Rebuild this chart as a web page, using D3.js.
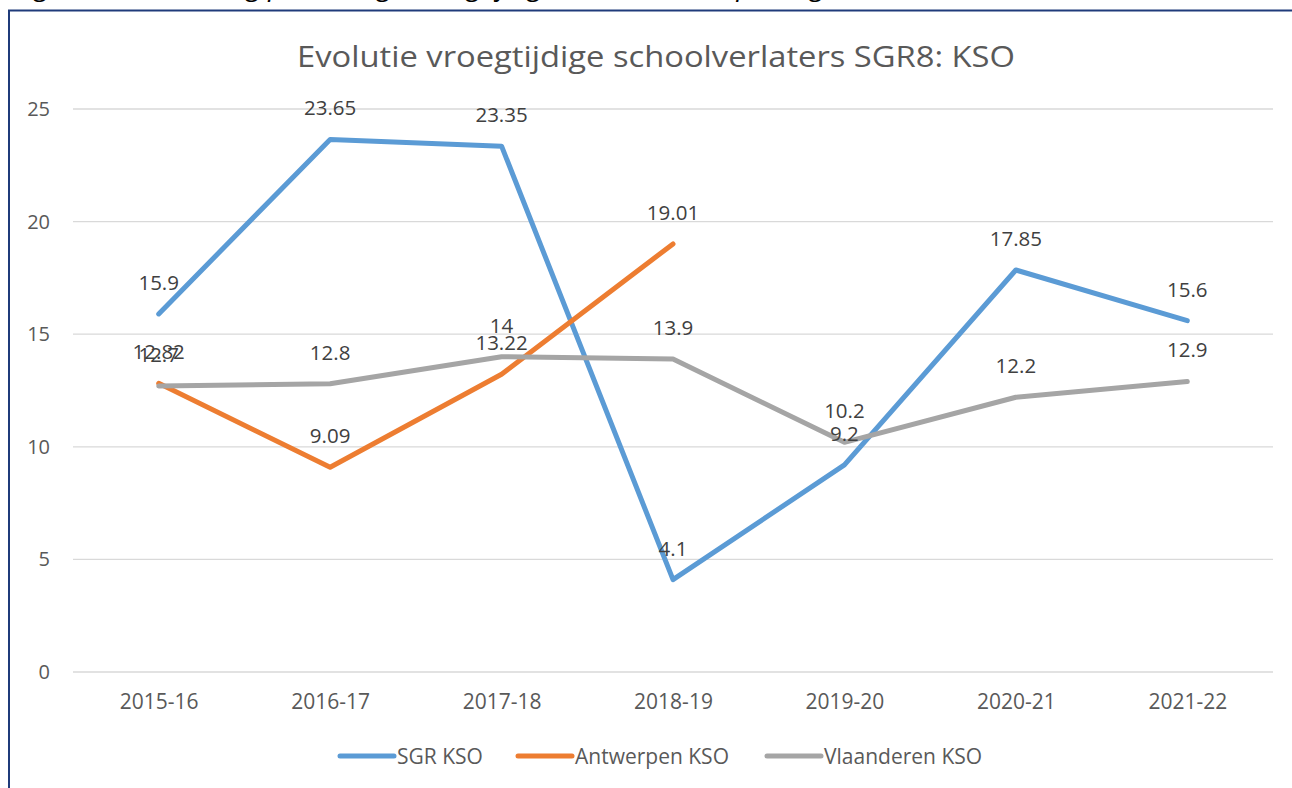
<!DOCTYPE html>
<html>
<head>
<meta charset="utf-8">
<script src="https://cdn.jsdelivr.net/npm/d3@7"></script>
<style>
  body { margin: 0; background: #fff; }
  svg { display: block; font-family: "Open Sans", "Noto Sans", sans-serif; }
</style>
</head>
<body>
<div class="chart"></div>
<script>
const width = 1292
const height = 788

// data
const years = ["2015-16", "2016-17", "2017-18", "2018-19", "2019-20", "2020-21", "2021-22"]
const sgrKso = [15.9, 23.65, 23.35, 4.1, 9.2, 17.85, 15.6]
const antwerpenKso = [12.82, 9.09, 13.22, 19.01, null, null, null]
const vlaanderenKso = [12.7, 12.8, 14, 13.9, 10.2, 12.2, 12.9]
const yTicks = [0, 5, 10, 15, 20, 25]
const seriesNames = ["SGR KSO", "Antwerpen KSO", "Vlaanderen KSO"]
const seriesColors = ["#5B9BD5", "#ED7D31", "#A5A5A5"]

const series = [sgrKso, antwerpenKso, vlaanderenKso].map((vals, i) => ({
    name: seriesNames[i],
    color: seriesColors[i],
    values: years.map((y, j) => ({ year: y, v: vals[j] })).filter(d => d.v !== null)
}))

const svg = d3.select(".chart")
    .append("svg")
    .attr("width", width)
    .attr("height", height)

// caption of the page above, cut off at the top edge
svg.append("text")
    .attr("x", 14)
    .attr("y", -5)
    .attr("font-size", "28")
    .attr("font-style", "italic")
    .attr("fill", "#000")
    .text("Figuur: ontwikkeling percentage vroegtijdig schoolverlaten per regio")

svg.append("path")
    .attr("d", `M${9},${height} L${9},${10.5} L${width},${10.5}`)
    .attr("fill", "none")
    .attr("stroke", "#1F3B7A")
    .attr("stroke-width", 2)

const x = d3.scalePoint()
    .domain(years)
    .range([73, 1273])
    .padding(0.5)

const y = d3.scaleLinear()
    .domain([0, 25])
    .range([672, 109])

// title
svg.append("text")
    .attr("x", 656)
    .attr("y", 67)
    .attr("text-anchor", "middle")
    .attr("font-size", "30")
    .attr("fill", "#595959")
    .attr("textLength", 718)
    .attr("lengthAdjust", "spacingAndGlyphs")
    .text("Evolutie vroegtijdige schoolverlaters SGR8: KSO")

// grid
svg.append("g")
    .selectAll("line")
    .data(yTicks)
    .join("line")
    .attr("x1", 73)
    .attr("x2", 1273)
    .attr("y1", d => y(d))
    .attr("y2", d => y(d))
    .attr("stroke", "#D9D9D9")
    .attr("stroke-width", 1.3)

// y axis labels
const yAxis = d3.axisLeft(y).tickValues(yTicks).tickSize(0).tickPadding(0)
svg.append("g")
    .attr("transform", `translate(${50}, 0)`)
    .call(yAxis)
    .call(g => g.select(".domain").remove())
    .selectAll("text")
    .attr("font-size", "20")
    .attr("font-family", "Open Sans, sans-serif")
    .attr("fill", "#595959")

// x axis labels
const xAxis = d3.axisBottom(x).tickSize(0).tickPadding(0)
svg.append("g")
    .attr("transform", `translate(0, ${694})`)
    .call(xAxis)
    .call(g => g.select(".domain").remove())
    .selectAll("text")
    .attr("font-size", "21")
    .attr("font-family", "Open Sans, sans-serif")
    .attr("fill", "#595959")

const line = d3.line()
    .x(d => x(d.year))
    .y(d => y(d.v))

svg.selectAll("path.line")
    .data(series)
    .join("path")
    .attr("class", "line")
    .attr("fill", "none")
    .attr("stroke", d => d.color)
    .attr("stroke-width", 5)
    .attr("stroke-linejoin", "round")
    .attr("stroke-linecap", "round")
    .attr("d", d => line(d.values))

// data labels, above each point
series.forEach(s => {
    svg.append("g")
        .selectAll("text")
        .data(s.values)
        .join("text")
        .attr("x", d => x(d.year))
        .attr("y", d => y(d.v) - 24)
        .attr("text-anchor", "middle")
        .attr("font-size", "20.5")
        .attr("fill", "#404040")
        .text(d => d.v)
})

// legend
const legendX = [340, 518, 767]
const legend = svg.append("g")
    .selectAll("g")
    .data(series)
    .join("g")
    .attr("transform", (d, i) => `translate(${legendX[i]}, ${756})`)

legend.append("line")
    .attr("x1", 0)
    .attr("x2", 54)
    .attr("stroke", d => d.color)
    .attr("stroke-width", 5)
    .attr("stroke-linecap", "round")

legend.append("text")
    .attr("x", 57)
    .attr("y", 7.5)
    .attr("font-size", "21")
    .attr("fill", "#595959")
    .text(d => d.name)
</script>
</body>
</html>
